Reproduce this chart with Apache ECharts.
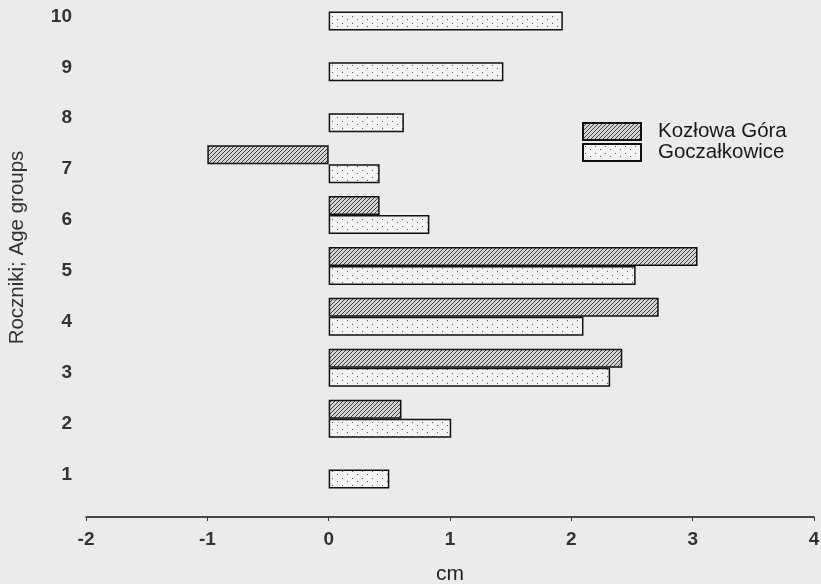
<!DOCTYPE html>
<html><head><meta charset="utf-8">
<script src="https://cdn.jsdelivr.net/npm/echarts@6/dist/echarts.min.js"></script>
<style>html,body{margin:0;padding:0;background:#ebebeb}#c{width:821px;height:584px}</style>
</head><body><div id="c"></div>
<script>
const categories = ['1','2','3','4','5','6','7','8','9','10'];
const seriesNames = ['Kozłowa Góra', 'Goczałkowice'];
const kozlowaGora = [null, 0.60, 2.42, 2.72, 3.04, 0.42, -1.00, null, null, null];
const goczalkowice = [0.50, 1.01, 2.32, 2.10, 2.53, 0.83, 0.42, 0.62, 1.44, 1.93];
const xMin = -2, xMax = 4, xStep = 1;

function hatch() {
  const c = document.createElement('canvas'); c.width = 4; c.height = 4;
  const g = c.getContext('2d');
  g.fillStyle = '#d4d4d4'; g.fillRect(0, 0, 4, 4);
  g.strokeStyle = '#3c3c3c'; g.lineWidth = 1;
  g.beginPath();
  g.moveTo(-1, 5); g.lineTo(5, -1);
  g.moveTo(-1, 1); g.lineTo(1, -1);
  g.moveTo(3, 5); g.lineTo(5, 3);
  g.stroke();
  return c;
}
function dots() {
  const c = document.createElement('canvas'); c.width = 10; c.height = 7;
  const g = c.getContext('2d');
  g.fillStyle = '#f3f3f3'; g.fillRect(0, 0, 10, 7);
  g.fillStyle = '#555';
  g.fillRect(2, 2, 1, 1);
  g.fillRect(7, 5, 1, 1);
  return c;
}

const chart = echarts.init(document.getElementById('c'), null, {renderer: 'canvas'});
const font = 'Liberation Sans, Arial, sans-serif';
chart.setOption({
  backgroundColor: '#ebebeb',
  animation: false,
  grid: {left: 86, right: 7, top: -14, height: 509, outerBoundsMode: 'none', containLabel: false},
  legend: {
    data: seriesNames, orient: 'vertical', left: 582, top: 121, padding: 0,
    itemWidth: 58, itemHeight: 17, itemGap: 0, icon: 'rect',
    textStyle: {fontFamily: font, fontSize: 20.5, color: '#1a1a1a', lineHeight: 17, padding: [0, 0, 0, 12]}
  },
  xAxis: {
    type: 'value', min: xMin, max: xMax, interval: xStep, offset: 22,
    splitLine: {show: false},
    axisLine: {show: true, lineStyle: {color: '#111', width: 1.5}},
    axisTick: {show: true, length: 4, lineStyle: {color: '#333', width: 1}},
    axisLabel: {fontFamily: font, fontSize: 19, fontWeight: 'bold', color: '#333', margin: 13},
    name: 'cm', nameLocation: 'middle', nameGap: 47,
    nameTextStyle: {fontFamily: font, fontSize: 21, color: '#222'}
  },
  yAxis: {
    type: 'category', data: categories,
    axisLine: {show: false}, axisTick: {show: false}, splitLine: {show: false},
    axisLabel: {fontFamily: font, fontSize: 19, fontWeight: 'bold', color: '#333', margin: 14,
                verticalAlign: 'top', lineHeight: 10},
    name: 'Roczniki; Age groups', nameLocation: 'middle', nameGap: 58, nameRotate: 90,
    nameTextStyle: {fontFamily: font, fontSize: 20.5, color: '#333', padding: [0, 14, 0, 0]}
  },
  series: [
    {name: seriesNames[0], type: 'bar', data: kozlowaGora, barWidth: 19, barGap: '0%',
     itemStyle: {color: {image: hatch(), repeat: 'repeat'}, borderColor: '#111', borderWidth: 1.5}},
    {name: seriesNames[1], type: 'bar', data: goczalkowice, barWidth: 19, barGap: '0%',
     itemStyle: {color: {image: dots(), repeat: 'repeat'}, borderColor: '#111', borderWidth: 1.5}}
  ]
});
</script></body></html>
